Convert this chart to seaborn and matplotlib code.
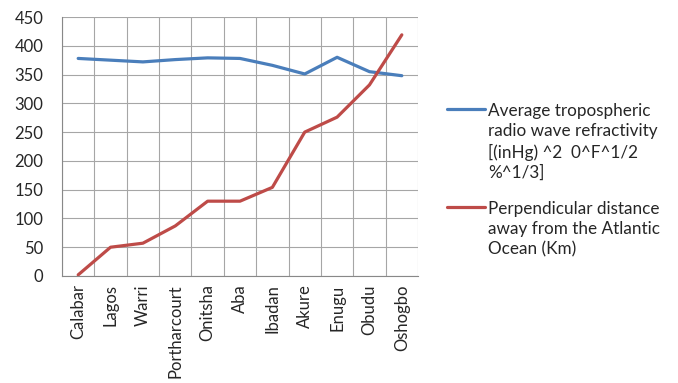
import matplotlib
matplotlib.use("Agg")
import matplotlib.pyplot as plt
from matplotlib.lines import Line2D
import numpy as np
import pandas as pd
import seaborn as sns

# Towns in order of increasing distance from the coast
towns = ["Calabar", "Lagos", "Warri", "Portharcourt", "Onitsha", "Aba",
         "Ibadan", "Akure", "Enugu", "Obudu", "Oshogbo"]

refractivity = [378, 375, 372, 376, 379, 378, 366, 351, 380, 355, 348]
distance_km = [2, 50, 57, 87, 130, 130, 154, 250, 276, 332, 419]

label_refr = "Average tropospheric\nradio wave refractivity\n[(inHg) ^2  0^F^1/2\n%^1/3]"
label_dist = "Perpendicular distance\naway from the Atlantic\nOcean (Km)"

y_ticks = list(range(0, 451, 50))

sns.set_theme(style="white")
plt.rcParams["font.family"] = ["Lato", "DejaVu Sans"]

df = pd.DataFrame({
    "pos": list(range(len(towns))) * 2,
    "value": refractivity + distance_km,
    "series": [label_refr] * len(towns) + [label_dist] * len(towns),
})

fig = plt.figure(figsize=(6.78, 3.83), dpi=100)
ax = fig.add_axes([62 / 678, 1 - 276 / 383, 356 / 678, 259 / 383])

palette = ["#4A7EBB", "#BE4B48"]
sns.lineplot(data=df, x="pos", y="value", hue="series",
             palette=palette, linewidth=2.3, ax=ax, legend=False)

n = len(towns)
ax.set_xlim(-0.5, n - 0.5)
ax.set_ylim(0, 450)
ax.set_xlabel("")
ax.set_ylabel("")

text_color = "#262626"

# category boundaries carry the tick marks and vertical grid lines
ax.set_xticks(np.arange(-0.5, n, 1.0))
ax.set_xticklabels([])
ax.set_xticks(np.arange(n), minor=True)
ax.set_xticklabels(towns, minor=True, rotation=90, fontsize=12, color=text_color)
ax.tick_params(axis="x", which="major", length=5, width=0.8, color="#888888", direction="out")
ax.tick_params(axis="x", which="minor", length=0, pad=6)

ax.set_yticks(y_ticks)
ax.set_yticklabels([str(v) for v in y_ticks], fontsize=12, color=text_color)
ax.tick_params(axis="y", length=5, width=0.8, color="#888888", direction="out", pad=8.5)

ax.grid(True, which="major", color="#A6A6A6", linewidth=0.8)
ax.set_axisbelow(True)
for side in ["top", "right"]:
    ax.spines[side].set_visible(False)
for side in ["left", "bottom"]:
    ax.spines[side].set_color("#888888")
    ax.spines[side].set_linewidth(0.8)

# legend: a short line sample beside the first line of each wrapped label
entries = [(label_refr, palette[0], 109), (label_dist, palette[1], 207)]
for text, color, y_px in entries:
    y = 1 - y_px / 383
    fig.add_artist(Line2D([447 / 678, 485 / 678], [y, y], color=color,
                          linewidth=2.3, transform=fig.transFigure))
    fig.text(488 / 678, 1 - (y_px - 6) / 383, text, fontsize=12.3,
             color=text_color, ha="left", va="top", linespacing=1.32,
             transform=fig.transFigure)

fig.savefig("out.png", dpi=100)
